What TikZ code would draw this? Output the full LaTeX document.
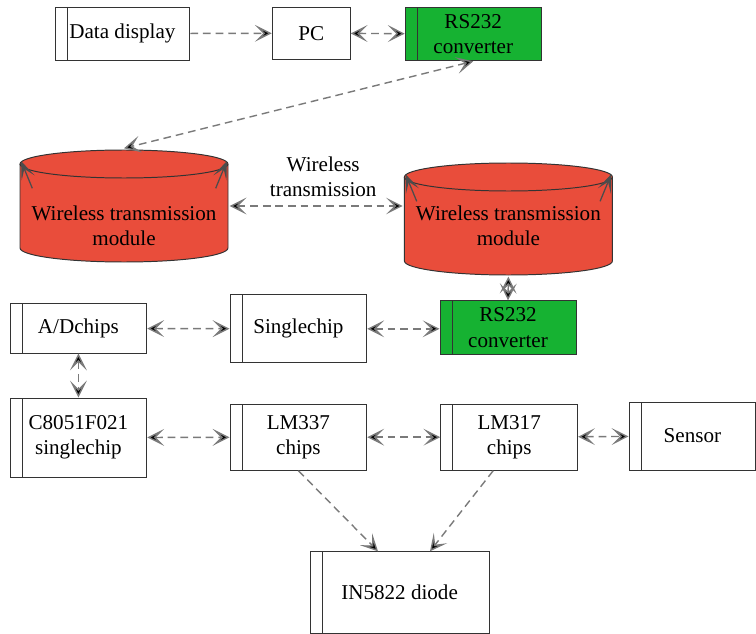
\documentclass[tikz,border=0pt]{standalone}
\usepackage{fontspec}
\setmainfont{Liberation Serif}
\usetikzlibrary{shapes.geometric,arrows.meta}

\definecolor{wlred}{RGB}{233,77,59}
\definecolor{rsgreen}{RGB}{22,178,50}
\definecolor{linkgray}{RGB}{122,122,122}

\begin{document}
\begin{tikzpicture}[>={Stealth[length=12pt,width=12pt,inset=6pt]},
  every node/.style={font=\fontsize{15}{18}\selectfont, align=center},
  box/.style={rectangle, draw=black!80, line width=0.7pt, fill=white},
  stripbox/.style={box, path picture={\draw[black!80, line width=0.7pt]
      ([xshift=0.3cm]path picture bounding box.north west) --
      ([xshift=0.3cm]path picture bounding box.south west);}},
  rsbox/.style={stripbox, fill=rsgreen, minimum width=3.4cm, minimum height=1.34cm},
  chipbox/.style={stripbox, minimum width=3.42cm},
  cyl/.style={rectangle, inner sep=0pt, minimum width=5.2cm+2pt, minimum height=2.8cm+2pt,
    path picture={
      \filldraw[fill=wlred, draw=black!80, line width=0.7pt]
        ([shift={(1pt,-0.35cm-1pt)}]path picture bounding box.north west)
        -- ([shift={(1pt,0.35cm+1pt)}]path picture bounding box.south west)
        arc[start angle=180, end angle=360, x radius=2.6cm, y radius=0.35cm]
        -- ([shift={(-1pt,-0.35cm-1pt)}]path picture bounding box.north east)
        arc[start angle=0, end angle=180, x radius=2.6cm, y radius=0.35cm] -- cycle;
      \draw[black!80, line width=0.7pt]
        ([shift={(1pt,-0.35cm-1pt)}]path picture bounding box.north west)
        arc[start angle=180, end angle=360, x radius=2.6cm, y radius=0.35cm];}},
  link/.style={draw=linkgray, line width=1pt, dash pattern=on 5.5pt off 3.5pt},
  cylmark/.style={-{Stealth[length=13pt,width=10pt,inset=7pt]}, draw=black!70, line width=0.9pt}]

  \useasboundingbox (0,0) rectangle (18.9,-15.85);

  % top row
  \node[stripbox, minimum width=3.37cm, minimum height=1.33cm] (dd) at (3.06,-0.84) {Data display};
  \node[box, minimum width=1.95cm, minimum height=1.3cm] (pc) at (7.78,-0.83) {PC};
  \node[rsbox] (rsA) at (11.83,-0.85) {RS232\\converter};

  % wireless modules
  \node[cyl] (wlL) at (3.10,-5.15) {};
  \node[cyl] (wlR) at (12.71,-5.475) {};
  \node (wlLtext) at (3.10,-5.64) {Wireless transmission\\module};
  \node (wlRtext) at (12.71,-5.64) {Wireless transmission\\module};
  \node (air) at (8.08,-4.42) {Wireless\\transmission};
  \draw[cylmark] ([shift={(0.35cm,-1.0cm)}]wlL.north west) -- ([shift={(2pt,-0.32cm)}]wlL.north west);
  \draw[cylmark] ([shift={(-0.35cm,-1.0cm)}]wlL.north east) -- ([shift={(-2pt,-0.32cm)}]wlL.north east);
  \draw[cylmark] ([shift={(0.35cm,-1.0cm)}]wlR.north west) -- ([shift={(2pt,-0.32cm)}]wlR.north west);
  \draw[cylmark] ([shift={(-0.35cm,-1.0cm)}]wlR.north east) -- ([shift={(-2pt,-0.32cm)}]wlR.north east);

  % middle row
  \node[chipbox, minimum height=1.23cm] (ad) at (1.96,-8.21) {A/Dchips};
  \node[chipbox, minimum height=1.7cm] (sc) at (7.46,-8.22) {Singlechip};
  \node[rsbox] (rsB) at (12.70,-8.19) {RS232\\converter};

  % chip row
  \node[chipbox, minimum height=1.98cm] (c8) at (1.96,-10.94) {C8051F021\\singlechip};
  \node[chipbox, minimum height=1.65cm] (lm337) at (7.46,-10.93) {LM337\\chips};
  \node[chipbox, minimum height=1.65cm] (lm317) at (12.73,-10.93) {LM317\\chips};
  \node[stripbox, minimum width=3.17cm, minimum height=1.7cm] (sens) at (17.31,-10.9) {Sensor};
  \node[stripbox, minimum width=4.47cm, minimum height=2.03cm] (diode) at (9.99,-14.81) {IN5822 diode};

  \path[link]
    (dd) edge[->] (pc)
    (pc) edge[<->] (rsA)
    (rsA.south) edge[<->] (wlL.north)
    (wlL.east) edge[<->] (wlL.east -| wlR.west)
    (wlR.south) edge[<->] (rsB.north)

    (ad) edge[<->] (sc)
    (sc.east) edge[<->] (sc.east -| rsB.west)
    (ad) edge[<->] (c8)

    (c8) edge[<->] (lm337)
    (lm337) edge[<->] (lm317)
    (lm317) edge[<->] (sens)

    (lm337.south) edge[->] ([xshift=-0.54cm]diode.north)
    ([xshift=-0.4cm]lm317.south) edge[->] ([xshift=0.76cm]diode.north);
\end{tikzpicture}
\end{document}
